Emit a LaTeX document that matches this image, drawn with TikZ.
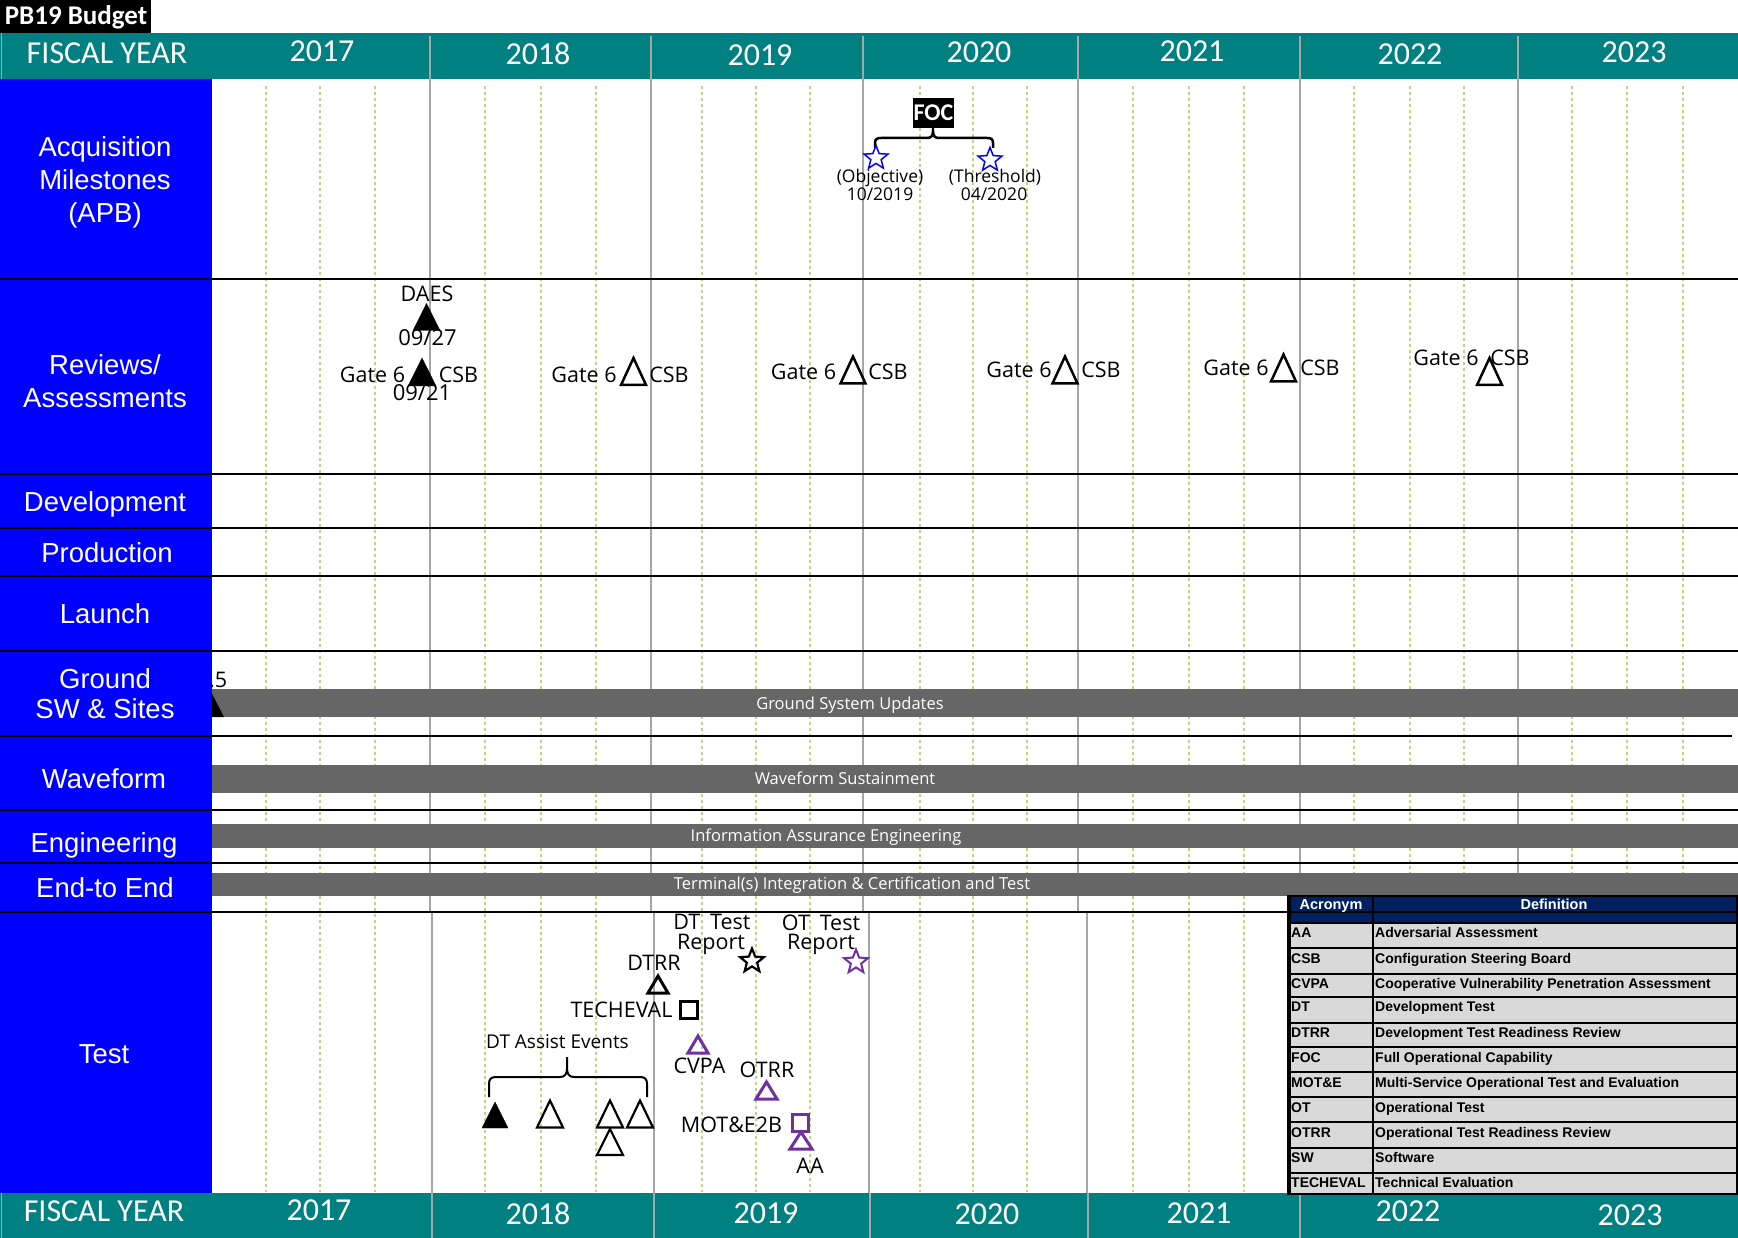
\documentclass[tikz,border=0pt]{standalone}
\usepackage{fontspec}
\setmainfont{Liberation Sans}
\newfontfamily\calfont{Carlito}
\newfontfamily\segfont{Open Sans}
\usetikzlibrary{shapes.geometric}
\definecolor{hdrteal}{RGB}{0,128,128}
\definecolor{colblue}{RGB}{0,0,255}
\definecolor{bargray}{RGB}{102,102,102}
\definecolor{dotgreen}{RGB}{190,210,140}
\definecolor{yeargray}{RGB}{166,166,166}
\definecolor{tnavy}{RGB}{0,32,96}
\definecolor{tblgray}{RGB}{217,217,217}
\definecolor{mpurple}{RGB}{112,48,160}
\newcommand\myfs[1]{\fontsize{#1}{#1}\selectfont}
\newcommand\mytri[5]{\draw[#5] ({#1-#3/2},{#2+#4/2}) -- (#1,{#2-#4/2}) -- ({#1+#3/2},{#2+#4/2}) -- cycle;}
\tikzset{
 dotline/.style={dotgreen, line width=2.4pt, dash pattern=on 3pt off 3pt},
 yline/.style={yeargray, line width=2pt},
 rowline/.style={black, line width=2.5pt},
 lbl/.style={font=\myfs{27.5}, text=white, inner sep=0pt, text height=19.7pt, text depth=0pt},
 yr/.style={font=\calfont\myfs{32}, text=white, inner sep=0pt, text height=20.6pt, text depth=0pt},
 seg/.style={font=\segfont\myfs{21.5}, inner sep=0pt, text height=15.4pt, text depth=0pt},
 segb/.style={font=\segfont\myfs{22}, inner sep=0pt, text height=15.7pt, text depth=0pt},
 sml/.style={font=\segfont\myfs{17.5}, inner sep=0pt, text height=12.5pt, text depth=0pt},
 bartxt/.style={font=\segfont\myfs{16.5}, text=white, inner sep=0pt, text height=11.8pt, text depth=0pt},
 bar/.style={fill=bargray},
 tbl/.style={font=\bfseries\myfs{14}, anchor=west, inner sep=0pt, text height=10pt, text depth=0pt},
 tblh/.style={font=\bfseries\myfs{14.5}, text=white, inner sep=0pt, text height=10.4pt, text depth=0pt},
 mstar/.style={star, star points=5, star point ratio=2.3, minimum size=25pt, inner sep=0pt},
 thick3/.style={line width=3pt, line join=miter},
}
\begin{document}
\begin{tikzpicture}[x=1pt,y=-1pt]
\useasboundingbox (0,0) rectangle (1738,1238);
\fill[white] (0,0) rectangle (1738,1238);

% dotted quarter lines
\foreach \x in {266,320,375,485,541,596,702,756,810,920,973,1027,1133,1189,1244,1354,1410,1464,1572,1627,1683}
  \draw[dotline] (\x,86) -- (\x,1192);
% year lines
\foreach \x in {430,651,863,1078,1300,1518}
  \draw[yline] (\x,79) -- (\x,912);
\foreach \x in {432,654,869,1087,1300,1518}
  \draw[yline] (\x,912) -- (\x,1193);

% bars
\fill[bar] (212,689) rectangle (1738,717);
\fill[bar] (212,765) rectangle (1738,793);
\fill[bar] (210,824) rectangle (1738,848);
\fill[bar] (212,873) rectangle (1738,896);
\node[bartxt] (gsu) at (850,704) {Ground System Updates};
\node[bartxt] (wfs) at (845,779) {Waveform Sustainment};
\node[bartxt] (iae) at (826,836) {Information Assurance Engineering};
\node[bartxt] (tic) at (852,884) {Terminal(s) Integration \& Certification and Test};
\fill[black] (199,717) -- (211,692) -- (224,717) -- cycle;

% blue column
\foreach \a/\b in {79/279,279/474,474/528,528/576,576/651,651/736,736/810,810/863,863/912,912/1193}
  \fill[colblue] (0,\a) rectangle (212,\b);

% row lines
\foreach \y in {279,474,528,576,651,810,863,912}
  \draw[rowline] (0,\y) -- (1738,\y);
\draw[rowline] (0,736) -- (1732,736);

\node[seg, anchor=west] (pt5) at (209,680) {.5};

% row labels
\node[lbl] (acq1) at (105,147) {Acquisition};
\node[lbl] (acq2) at (105,180) {Milestones};
\node[lbl] (acq3) at (105,213) {(APB)};
\node[lbl] (rev1) at (105,365) {Reviews/};
\node[lbl] (rev2) at (105,398) {Assessments};
\node[lbl] (dev) at (105,502) {Development};
\node[lbl] (prod) at (107,553) {Production};
\node[lbl] (lau) at (105,614) {Launch};
\node[lbl] (gr1) at (105,679) {Ground};
\node[lbl] (gr2) at (105,709) {SW \& Sites};
\node[lbl] (wav) at (104,779) {Waveform};
\node[lbl] (eng) at (104,843) {Engineering};
\node[lbl] (e2e) at (105,888) {End-to End};
\node[lbl] (tst) at (104,1054) {Test};

% headers
\fill[hdrteal] (0,33) rectangle (1738,79);
\fill[hdrteal] (0,1193) rectangle (1738,1238);
\draw[yeargray, line width=1.5pt] (1.5,33) -- (1.5,79);
\draw[yeargray, line width=1.5pt] (1.5,1193) -- (1.5,1238);
\foreach \x in {430,651,863,1078,1300,1518}
  \draw[yline] (\x,36) -- (\x,79);
\foreach \x in {432,654,870,1088,1300}
  \draw[yline] (\x,1193) -- (\x,1238);
\fill[black] (0,0) rectangle (151,33);
\node[font=\calfont\bfseries\myfs{27}, text=white, inner sep=0pt, text height=17.4pt, text depth=0pt] (title) at (76,16) {PB19 Budget};

\node[yr] (fyt) at (107,53) {FISCAL YEAR};
\node[yr] (t17) at (322,51) {2017};
\node[yr] (t18) at (538,54) {2018};
\node[yr] (t19) at (760,55) {2019};
\node[yr] (t20) at (979,52) {2020};
\node[yr] (t21) at (1192,51) {2021};
\node[yr] (t22) at (1410,54) {2022};
\node[yr] (t23) at (1634,52) {2023};
\node[yr] (fyb) at (104,1211) {FISCAL YEAR};
\node[yr] (b17) at (319,1210) {2017};
\node[yr] (b18) at (538,1214) {2018};
\node[yr] (b19) at (766,1213) {2019};
\node[yr] (b20) at (987,1214) {2020};
\node[yr] (b21) at (1199,1213) {2021};
\node[yr] (b22) at (1408,1211) {2022};
\node[yr] (b23) at (1630,1215) {2023};

% Acquisition milestones
\node[fill=black, text=white, font=\calfont\bfseries\myfs{24}, inner sep=0pt, minimum width=41pt, minimum height=30pt, text height=15.5pt, text depth=0pt] (foc) at (933.5,113) {FOC};
\draw[line width=2.5pt] (875,148) -- (875,143) .. controls (875,139) and (877,138) .. (881,138) -- (927,138) .. controls (931,138) and (933,136) .. (933,131) .. controls (933,136) and (935,138) .. (939,138) -- (987,138) .. controls (991,138) and (993,139) .. (993,143) -- (993,148);
\node[mstar, draw=colblue, line width=1.5pt] (sobj) at (876,158) {};
\node[mstar, draw=colblue, line width=1.5pt] (sthr) at (990,160) {};
\node[sml] (obj) at (880,176) {(Objective)};
\node[sml] (objd) at (880,194.5) {10/2019};
\node[sml] (thr) at (995,176) {(Threshold)};
\node[sml] (thrd) at (994,194.5) {04/2020};

% Reviews
\node[seg] (daes) at (427,294) {DAES};
\mytri{426.5}{317}{27}{27}{fill=black}
\node[segb] (d927) at (427.5,338) {09/27};
\node[seg] (g1) at (372.5,375) {Gate 6};
\mytri{422}{372}{28}{28}{fill=black}
\node[seg] (c1) at (458.5,375) {CSB};
\node[segb] (d921) at (422,393) {09/21};
\node[seg] (g2) at (584,375) {Gate 6};
\mytri{633.5}{371.5}{25}{27}{line width=2.5pt, line join=miter}
\node[seg] (c2) at (669,375) {CSB};
\node[seg] (g3) at (803.5,372) {Gate 6};
\mytri{853}{370}{25}{27}{line width=2.5pt, line join=miter}
\node[seg] (c3) at (888,372) {CSB};
\node[seg] (g4) at (1019,370) {Gate 6};
\mytri{1065}{370}{25}{27}{line width=2.5pt, line join=miter}
\node[seg] (c4) at (1101,370) {CSB};
\node[seg] (g5) at (1236,368) {Gate 6};
\mytri{1283.5}{368}{25}{27}{line width=2.5pt, line join=miter}
\node[seg] (c5) at (1320,368) {CSB};
\node[seg] (g6) at (1446,358) {Gate 6};
\mytri{1489.5}{371.5}{25}{27}{line width=2.5pt, line join=miter}
\node[seg] (c6) at (1510,358) {CSB};

% Test row
\node[seg] (dtt1) at (712,922) {DT \hspace{0.2em}Test};
\node[seg] (dtt2) at (711,942) {Report};
\node[seg] (ott1) at (821,923) {OT \hspace{0.2em}Test};
\node[seg] (ott2) at (821,942) {Report};
\node[mstar, draw=black, line width=2.2pt] (sdt) at (752,961) {};
\node[mstar, draw=mpurple, line width=2pt] (sot) at (856,962) {};
\node[seg] (dtrr) at (654,963) {DTRR};
\mytri{658}{984.5}{20}{17}{thick3}
\node[seg] (tech) at (621.5,1010) {TECHEVAL};
\draw[thick3] (680,1001) rectangle (697,1018);
\mytri{698}{1044.5}{20}{17}{thick3, draw=mpurple}
\node[seg] (cvpa) at (699.5,1066) {CVPA};
\node[seg] (otrr) at (767,1069.5) {OTRR};
\mytri{766.5}{1090.5}{21}{17}{thick3, draw=mpurple}
\node[seg] (mote) at (731.5,1125) {MOT\&E2B};
\draw[thick3, draw=mpurple] (792,1114) rectangle (808,1131);
\mytri{801}{1140.5}{22}{17}{thick3, draw=mpurple}
\node[seg] (aa) at (810,1165.5) {AA};
\node[font=\segfont\myfs{19}, inner sep=0pt, text height=13.6pt, text depth=0pt] (dta) at (557.5,1041.5) {DT Assist Events};
\draw[line width=2pt] (489,1097) -- (489,1084) .. controls (489,1079) and (491,1077) .. (496,1077) -- (560,1077) .. controls (565,1077) and (567,1074) .. (567,1068) -- (567,1057)
  (567,1068) .. controls (567,1074) and (569,1077) .. (574,1077) -- (640,1077) .. controls (645,1077) and (647,1079) .. (647,1084) -- (647,1097);
\mytri{495}{1115}{26}{26}{fill=black}
\mytri{550}{1114}{26}{27}{line width=2.2pt, line join=miter}
\mytri{610}{1114}{26}{27}{line width=2.2pt, line join=miter}
\mytri{640}{1114}{26}{27}{line width=2.2pt, line join=miter}
\mytri{610}{1142}{26}{26}{line width=2.2pt, line join=miter}

% Acronym table
\fill[tnavy] (1288,896) rectangle (1737,923);
\fill[tblgray] (1288,923) rectangle (1737,1194);
\draw[line width=1.5pt] (1288,912) -- (1737,912);
\foreach \y in {923,948,974,997,1023,1047,1072,1097,1122,1148,1173}
  \draw[line width=1.2pt] (1288,\y) -- (1737,\y);
\draw[line width=1.2pt] (1373,896) -- (1373,1194);
\draw[line width=1.5pt] (1288,896) rectangle (1737,1194);
\draw[line width=3.5pt] (1289.5,896) -- (1289.5,1194);
\node[tblh] (hacr) at (1331,904) {Acronym};
\node[tblh] (hdef) at (1554,904) {Definition};
\foreach \y/\a/\d [count=\i] in {932.7/AA/Adversarial Assessment,958.3/CSB/Configuration Steering Board,983.3/CVPA/Cooperative Vulnerability Penetration Assessment,1006.7/DT/Development Test,1032.3/DTRR/Development Test Readiness Review,1057.3/FOC/Full Operational Capability,1082.3/MOT\&E/Multi-Service Operational Test and Evaluation,1107.3/OT/Operational Test,1132.3/OTRR/Operational Test Readiness Review,1157.3/SW/Software,1182.3/TECHEVAL/Technical Evaluation}{
  \node[tbl] (ta\i) at (1291,\y) {\a};
  \node[tbl] (td\i) at (1375,\y) {\d};
}
\end{tikzpicture}
\end{document}
